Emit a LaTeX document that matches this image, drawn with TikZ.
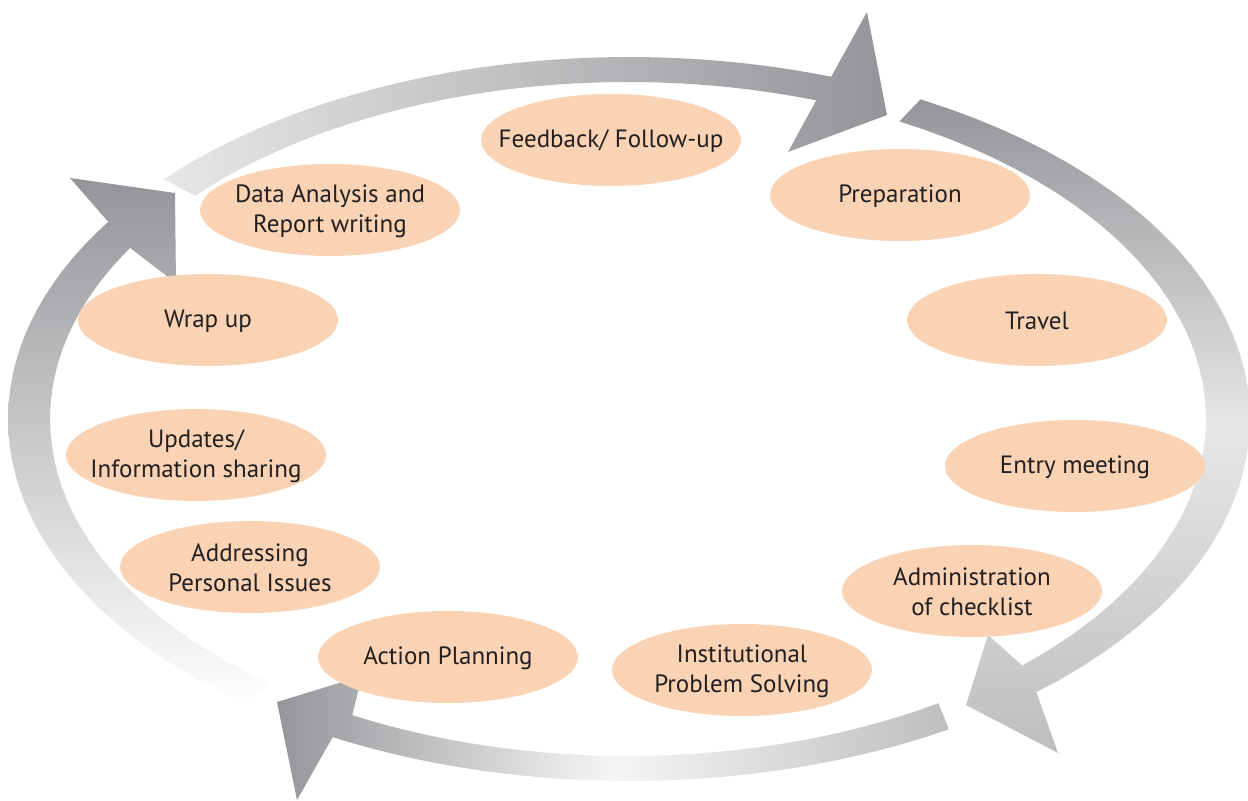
\documentclass[tikz,border=0pt]{standalone}
\usepackage{fontspec}
\setmainfont{PT Sans}
\usetikzlibrary{shapes.geometric}
\definecolor{peach}{RGB}{249,211,180}
\definecolor{ink}{RGB}{35,31,32}
\definecolor{arrdark}{RGB}{147,149,152}
\definecolor{arrmid}{RGB}{188,190,192}
\definecolor{arrlight}{RGB}{230,231,232}
\tikzset{
  stage/.style={ellipse, fill=peach, minimum width=130pt, minimum height=46pt, inner sep=0pt, label={[stagetext]center:#1}},
  stagetext/.style={align=center, text=ink, font=\fontsize{12.5}{15}\selectfont, yshift=-0.5pt},
}
\begin{document}
\begin{tikzpicture}[x=0.5pt,y=-0.5pt]
\useasboundingbox (0,0) rectangle (1248,801);
% the four arrows of the cycle
\shade[left color=arrlight, right color=arrdark]
  plot[domain=-138.5:-71, samples=40] ({629+621*cos(\x)},{419+362*sin(\x)})
  -- (867,12) -- (887,115) -- (788,152)
  -- plot[domain=-71:-138.5, samples=40] ({628+578*cos(\x)},{419+337*sin(\x)}) -- cycle;
\shade[top color=arrdark, bottom color=arrmid, middle color=arrlight]
  plot[domain=-62:49, samples=40] ({629+621*cos(\x)},{419+362*sin(\x)})
  -- (1058,753) -- (966,705) -- (988,635)
  -- plot[domain=47:-62, samples=40] ({628+578*cos(\x)},{419+337*sin(\x)}) -- cycle;
\shade[left color=arrdark, right color=arrmid, middle color=arrlight!40!white]
  plot[domain=59:118.5, samples=40] ({629+621*cos(\x)},{419+362*sin(\x)})
  -- (297,800) -- (277,702) -- (362,676)
  -- plot[domain=118.5:57.5, samples=40] ({628+578*cos(\x)},{419+337*sin(\x)}) -- cycle;
\shade[top color=arrdark, bottom color=white]
  plot[domain=127.5:213, samples=40] ({629+621*cos(\x)},{419+362*sin(\x)})
  -- (70,178) -- (175,193) -- (176,283)
  -- plot[domain=210.5:128.5, samples=40] ({628+578*cos(\x)},{419+337*sin(\x)}) -- cycle;
% stages
\node[stage={Feedback/ Follow-up}] (feedback) at (611,140) {};
\node[stage={Preparation}] (prep) at (900,195) {};
\node[stage={Travel}] (travel) at (1037,320) {};
\node[stage={Entry meeting}] (entry) at (1075,466) {};
\node[stage={Administration\\of checklist}] (admin) at (972,591) {};
\node[stage={Institutional\\Problem Solving}] (solving) at (742,670) {};
\node[stage={Action Planning}] (planning) at (448,657) {};
\node[stage={Addressing\\Personal Issues}] (personal) at (250,567) {};
\node[stage={Updates/\\Information sharing}] (updates) at (196,455) {};
\node[stage={Wrap up}] (wrapup) at (208,320) {};
\node[stage={Data Analysis and\\Report writing}] (report) at (330,210) {};
\end{tikzpicture}
\end{document}
